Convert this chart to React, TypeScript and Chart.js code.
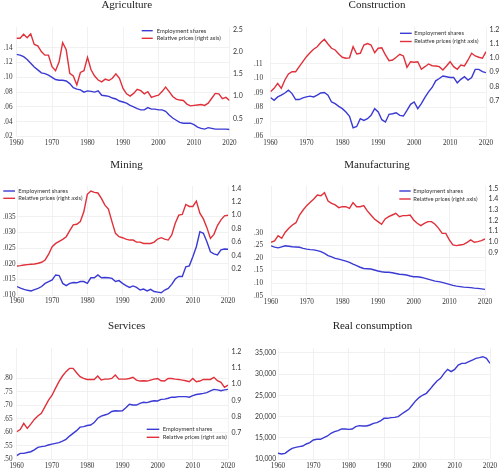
import React, { useEffect, useRef } from "react";
import { Chart, registerables } from "chart.js";

Chart.register(...registerables);

// ---------------- DATA ----------------
const YEARS: number[] = Array.from({ length: 61 }, (_, i) => 1960 + i);
const DECADE_TICKS = [1960, 1970, 1980, 1990, 2000, 2010, 2020];

const agriEmployment = [
  0.131, 0.130, 0.128, 0.124, 0.119, 0.114, 0.110, 0.106, 0.105, 0.103,
  0.100, 0.097, 0.096, 0.096, 0.095, 0.0915, 0.086, 0.084, 0.083, 0.080,
  0.0816, 0.081, 0.080, 0.0816, 0.0757, 0.075, 0.0743, 0.072, 0.0707, 0.068,
  0.0666, 0.065, 0.062, 0.060, 0.0576, 0.056, 0.056, 0.059, 0.057, 0.057,
  0.056, 0.056, 0.054, 0.049, 0.045, 0.042, 0.039, 0.038, 0.038, 0.038,
  0.036, 0.0327, 0.031, 0.030, 0.032, 0.031, 0.030, 0.030, 0.030, 0.030,
  0.0295,
];
const agriPrices = [
  2.30, 2.30, 2.39, 2.31, 2.40, 2.16, 2.13, 2.00, 1.92, 1.92,
  1.66, 1.57, 1.77, 2.20, 2.04, 1.51, 1.45, 1.25, 1.53, 1.57,
  1.87, 1.59, 1.45, 1.36, 1.32, 1.38, 1.35, 1.40, 1.50, 1.40,
  1.17, 1.05, 1.00, 1.06, 1.15, 1.12, 1.05, 1.10, 0.97, 1.00,
  1.02, 1.10, 1.20, 1.10, 0.99, 0.93, 0.91, 0.90, 0.82, 0.78,
  0.79, 0.80, 0.81, 0.79, 0.84, 0.95, 1.06, 1.05, 0.94, 0.97,
  0.90,
];

const constrEmployment = [
  0.0869, 0.085, 0.0873, 0.0885, 0.090, 0.092, 0.0896, 0.0855, 0.0855, 0.0866,
  0.0873, 0.0878, 0.0873, 0.0885, 0.090, 0.0903, 0.0885, 0.0838, 0.0827, 0.0808,
  0.0792, 0.0769, 0.0739, 0.066, 0.0669, 0.0723, 0.0711, 0.0723, 0.0746, 0.0792,
  0.0769, 0.0716, 0.070, 0.0753, 0.0757, 0.0764, 0.0746, 0.0741, 0.078, 0.0822,
  0.0838, 0.0792, 0.0827, 0.0869, 0.0908, 0.0938, 0.0984, 0.100, 0.1017, 0.1012,
  0.1007, 0.1007, 0.097, 0.0994, 0.1012, 0.0989, 0.1007, 0.1063, 0.1063, 0.1047,
  0.104,
];
const constrPrices = [
  0.763, 0.786, 0.821, 0.786, 0.845, 0.887, 0.903, 0.903, 0.938, 0.973,
  1.008, 1.036, 1.06, 1.078, 1.107, 1.13, 1.097, 1.067, 1.055, 1.027,
  1.004, 0.997, 1.0, 1.078, 1.027, 1.032, 1.09, 1.10, 1.09, 1.036,
  1.067, 1.07, 1.02, 0.98, 0.985, 1.004, 1.025, 1.013, 0.934, 0.973,
  0.969, 0.973, 0.92, 0.938, 0.957, 0.945, 0.943, 0.938, 0.915, 0.943,
  0.973, 0.938, 0.92, 0.95, 0.943, 0.985, 1.032, 1.013, 1.004, 0.997,
  1.043,
];

const miningEmployment = [
  0.0127, 0.0122, 0.0118, 0.0115, 0.0113, 0.0117, 0.0121, 0.0127, 0.0137, 0.0143,
  0.0148, 0.0164, 0.0162, 0.0137, 0.0130, 0.0137, 0.0140, 0.0139, 0.0143, 0.0143,
  0.0137, 0.0155, 0.0155, 0.0164, 0.0155, 0.0156, 0.0155, 0.0153, 0.0143, 0.0146,
  0.0137, 0.0130, 0.0124, 0.0129, 0.0124, 0.0116, 0.0119, 0.0113, 0.0118, 0.0111,
  0.0109, 0.0107, 0.0116, 0.0121, 0.0134, 0.0151, 0.0159, 0.0159, 0.0190, 0.0193,
  0.0222, 0.0254, 0.0302, 0.0297, 0.0270, 0.0238, 0.0231, 0.0228, 0.0244, 0.0247,
  0.0246,
];
const miningPrices = [
  0.245, 0.25, 0.26, 0.265, 0.27, 0.275, 0.285, 0.30, 0.334, 0.42,
  0.53, 0.58, 0.61, 0.64, 0.68, 0.77, 0.855, 0.865, 0.905, 1.05,
  1.31, 1.36, 1.34, 1.33, 1.25, 1.15, 1.09, 0.905, 0.73, 0.68,
  0.665, 0.645, 0.63, 0.63, 0.60, 0.60, 0.58, 0.58, 0.58, 0.60,
  0.645, 0.665, 0.645, 0.63, 0.705, 0.88, 1.0, 1.01, 1.16, 1.13,
  1.13, 1.21, 1.03, 0.945, 0.815, 0.655, 0.715, 0.845, 0.93, 0.99,
  1.0,
];

const manufEmployment = [
  0.248, 0.243, 0.240, 0.244, 0.248, 0.246, 0.244, 0.243, 0.242, 0.238,
  0.235, 0.233, 0.232, 0.229, 0.225, 0.218, 0.209, 0.204, 0.198, 0.195,
  0.191, 0.187, 0.182, 0.175, 0.169, 0.163, 0.158, 0.157, 0.156, 0.152,
  0.148, 0.145, 0.143, 0.143, 0.141, 0.138, 0.135, 0.134, 0.132, 0.128,
  0.125, 0.125, 0.123, 0.120, 0.116, 0.112, 0.108, 0.106, 0.103, 0.099,
  0.095, 0.091, 0.088, 0.086, 0.084, 0.083, 0.082, 0.080, 0.079, 0.077,
  0.075,
];
const manufPrices = [
  0.994, 1.006, 1.056, 1.031, 1.088, 1.125, 1.156, 1.178, 1.25, 1.297,
  1.338, 1.369, 1.40, 1.438, 1.431, 1.459, 1.381, 1.359, 1.344, 1.319,
  1.328, 1.328, 1.313, 1.366, 1.328, 1.328, 1.338, 1.288, 1.25, 1.213,
  1.188, 1.163, 1.213, 1.234, 1.25, 1.266, 1.234, 1.244, 1.244, 1.25,
  1.203, 1.172, 1.15, 1.172, 1.188, 1.188, 1.163, 1.125, 1.078, 1.078,
  1.016, 0.969, 0.963, 0.969, 0.975, 0.994, 1.016, 0.994, 1.0, 1.009,
  1.025,
];

const servEmployment = [
  0.5136, 0.522, 0.522, 0.525, 0.528, 0.535, 0.544, 0.547, 0.549, 0.553,
  0.556, 0.559, 0.562, 0.567, 0.574, 0.586, 0.596, 0.606, 0.619, 0.621,
  0.625, 0.627, 0.636, 0.652, 0.660, 0.664, 0.668, 0.677, 0.680, 0.679,
  0.680, 0.691, 0.704, 0.701, 0.701, 0.707, 0.711, 0.710, 0.714, 0.717,
  0.716, 0.722, 0.723, 0.726, 0.730, 0.730, 0.732, 0.732, 0.732, 0.730,
  0.736, 0.740, 0.742, 0.744, 0.747, 0.753, 0.759, 0.757, 0.754, 0.757,
  0.759,
];
const servPrices = [
  0.706, 0.72, 0.758, 0.727, 0.753, 0.782, 0.803, 0.82, 0.86, 0.90,
  0.93, 0.974, 1.015, 1.05, 1.077, 1.097, 1.097, 1.07, 1.046, 1.035,
  1.029, 1.029, 1.029, 1.05, 1.025, 1.031, 1.031, 1.035, 1.056, 1.031,
  1.031, 1.031, 1.035, 1.042, 1.025, 1.019, 1.021, 1.019, 1.025, 1.031,
  1.035, 1.021, 1.019, 1.035, 1.035, 1.031, 1.029, 1.025, 1.021, 1.015,
  1.035, 1.015, 1.019, 1.029, 1.029, 1.029, 1.042, 1.021, 1.011, 0.98,
  0.994,
];

const realConsumption = [
  11406, 11250, 11400, 12030, 12580, 12800, 12970, 13120, 13590, 13900,
  14530, 14690, 14690, 15080, 15470, 16100, 16480, 16720, 17110, 17110,
  17030, 17110, 17660, 17890, 17810, 17810, 18050, 18440, 18600, 18980,
  19610, 19610, 19770, 19840, 20000, 20630, 21170, 21720, 22730, 23750,
  24530, 25080, 25470, 26410, 27420, 28360, 28980, 30160, 31090, 30550,
  31090, 32110, 32500, 32500, 32890, 33280, 33670, 33830, 34060, 33670,
  32500,
];

const agriLeftTicks = [0.02, 0.04, 0.06, 0.08, 0.10, 0.12, 0.14];
const agriRightTicks = [0.5, 1.0, 1.5, 2.0, 2.5];
const constrLeftTicks = [0.06, 0.07, 0.08, 0.09, 0.10, 0.11];
const constrRightTicks = [0.7, 0.8, 0.9, 1.0, 1.1, 1.2];
const miningLeftTicks = [0.010, 0.015, 0.020, 0.025, 0.030, 0.035];
const miningRightTicks = [0.2, 0.4, 0.6, 0.8, 1.0, 1.2, 1.4];
const manufLeftTicks = [0.05, 0.10, 0.15, 0.20, 0.25, 0.30];
const manufRightTicks = [0.9, 1.0, 1.1, 1.2, 1.3, 1.4, 1.5];
const servLeftTicks = [0.50, 0.55, 0.60, 0.65, 0.70, 0.75, 0.80];
const servRightTicks = [0.7, 0.8, 0.9, 1.0, 1.1, 1.2];
const consLeftTicks = [10000, 15000, 20000, 25000, 30000, 35000];

const EMP_LABEL = "Employment shares";
const PRICE_LABEL = "Relative prices (right axis)";

// ---------------- STYLE ----------------
const BLUE = "#3a3ad4";
const RED = "#e0303a";
const GRID = "#ededed";
const TICK_COLOR = "#333";
const SERIF = "'Liberation Serif', 'Times New Roman', serif";
const SANS = "Lato, 'Liberation Sans', sans-serif";

const fracFmt = (digits: number) => (v: number) =>
  v.toFixed(digits).replace(/^0/, "");
const oneDec = (v: number) => v.toFixed(1);
const thousands = (v: number) => Math.round(v).toLocaleString("en-US");

type Axis = {
  min: number;
  max: number;
  ticks: number[];
  fmt: (v: number) => string;
  font?: any;
};
type Panel = {
  title: string;
  x: number;
  y: number;
  w: number;
  h: number;
  area: { l: number; t: number; r: number; b: number };
  padLeft: number;
  left: Axis;
  right?: Axis;
  emp: number[];
  price?: number[];
  legend?: { x0: number; x1: number; tx: number; ys: number[] };
};

const PANELS: Panel[] = [
  {
    title: "Agriculture",
    x: 0, y: 0, w: 250, h: 150,
    area: { l: 16.5, t: 27, r: 229.5, b: 136.5 },
    padLeft: 3.5,
    left: { min: 0.02, max: 0.168, ticks: agriLeftTicks, fmt: fracFmt(2) },
    right: { min: 0.091, max: 2.552, ticks: agriRightTicks, fmt: oneDec },
    emp: agriEmployment,
    price: agriPrices,
    legend: { x0: 141.7, x1: 152.7, tx: 156.7, ys: [30.7, 38.3] },
  },
  {
    title: "Construction",
    x: 250, y: 0, w: 250, h: 150,
    area: { l: 20.5, t: 27, r: 236, b: 136.5 },
    padLeft: 4,
    left: { min: 0.06, max: 0.1355, ticks: constrLeftTicks, fmt: fracFmt(2) },
    right: { min: 0.449, max: 1.216, ticks: constrRightTicks, fmt: oneDec },
    emp: constrEmployment,
    price: constrPrices,
    legend: { x0: 150, x1: 161.7, tx: 164.3, ys: [33.3, 41.5] },
  },
  {
    title: "Mining",
    x: 0, y: 160, w: 250, h: 148,
    area: { l: 17, t: 26, r: 228, b: 135 },
    padLeft: 3,
    left: { min: 0.010, max: 0.0448, ticks: miningLeftTicks, fmt: fracFmt(3) },
    right: { min: -0.187, max: 1.434, ticks: miningRightTicks, fmt: oneDec },
    emp: miningEmployment,
    price: miningPrices,
    legend: { x0: 3.3, x1: 15, tx: 18.3, ys: [31, 38.3] },
  },
  {
    title: "Manufacturing",
    x: 250, y: 160, w: 250, h: 148,
    area: { l: 21, t: 26, r: 235, b: 135.7 },
    padLeft: 4,
    left: { min: 0.05, max: 0.4853, ticks: manufLeftTicks, fmt: fracFmt(2) },
    right: { min: 0.493, max: 1.522, ticks: manufRightTicks, fmt: oneDec },
    emp: manufEmployment,
    price: manufPrices,
    legend: { x0: 149.3, x1: 160.7, tx: 163.3, ys: [31, 39] },
  },
  {
    title: "Services",
    x: 0, y: 321, w: 250, h: 147,
    area: { l: 16.7, t: 27, r: 228, b: 138.3 },
    padLeft: 3.5,
    left: { min: 0.50, max: 0.9122, ticks: servLeftTicks, fmt: fracFmt(2) },
    right: { min: 0.536, max: 1.223, ticks: servRightTicks, fmt: oneDec },
    emp: servEmployment,
    price: servPrices,
    legend: { x0: 146.7, x1: 159.3, tx: 162.7, ys: [108.3, 116.3] },
  },
  {
    title: "Real consumption",
    x: 250, y: 321, w: 250, h: 147,
    area: { l: 28, t: 27, r: 240, b: 138.3 },
    padLeft: 5,
    left: {
      min: 10000,
      max: 36102,
      ticks: consLeftTicks,
      fmt: thousands,
      font: { family: SANS, size: 6.8 },
    },
    emp: realConsumption,
  },
];

// ---------------- PLUGIN ----------------
const panelLegend = {
  id: "panelLegend",
  afterDraw(chart: any, _args: any, opts: any) {
    if (!opts || !opts.ys) return;
    const ctx = chart.ctx;
    ctx.save();
    chart.data.datasets.forEach((ds: any, i: number) => {
      const y = opts.ys[i];
      if (y === undefined) return;
      ctx.strokeStyle = ds.borderColor;
      ctx.lineWidth = 1.4;
      ctx.beginPath();
      ctx.moveTo(opts.x0, y);
      ctx.lineTo(opts.x1, y);
      ctx.stroke();
      ctx.fillStyle = "#333";
      ctx.font = `5.8px ${SANS}`;
      ctx.textAlign = "left";
      ctx.textBaseline = "middle";
      ctx.fillText(ds.label, opts.tx, y);
    });
    ctx.restore();
  },
};

function toPoints(values: number[]) {
  return values.map((v, i) => ({ x: YEARS[i], y: v }));
}

function PanelChart({ p }: { p: Panel }) {
  const ref = useRef<HTMLCanvasElement | null>(null);
  useEffect(() => {
    if (!ref.current) return;
    const datasets: any[] = [
      {
        label: EMP_LABEL,
        data: toPoints(p.emp),
        borderColor: BLUE,
        backgroundColor: BLUE,
        borderWidth: 1.4,
        pointRadius: 0,
        yAxisID: "y",
        spanGaps: true,
      },
    ];
    if (p.price) {
      datasets.push({
        label: PRICE_LABEL,
        data: toPoints(p.price),
        borderColor: RED,
        backgroundColor: RED,
        borderWidth: 1.4,
        pointRadius: 0,
        yAxisID: "y2",
        spanGaps: true,
      });
    }
    const leftFont = p.left.font || { family: SERIF, size: 7.2 };
    const scales: any = {
      x: {
        type: "linear",
        min: 1960,
        max: 2020,
        afterBuildTicks: (s: any) => {
          s.ticks = DECADE_TICKS.map((v) => ({ value: v }));
        },
        afterFit: (s: any) => {
          s.height = p.h - p.area.b;
        },
        grid: { color: GRID, drawTicks: false, lineWidth: 0.8 },
        border: { display: false },
        ticks: {
          padding: 2,
          color: TICK_COLOR,
          font: { family: SERIF, size: 7.2 },
          maxRotation: 0,
          autoSkip: false,
          callback: (v: any) => String(v),
        },
      },
      y: {
        type: "linear",
        position: "left",
        min: p.left.min,
        max: p.left.max,
        afterBuildTicks: (s: any) => {
          s.ticks = p.left.ticks.map((v) => ({ value: v }));
        },
        afterFit: (s: any) => {
          s.width = p.area.l - p.padLeft;
        },
        grid: { color: GRID, drawTicks: false, lineWidth: 0.8 },
        border: { display: false },
        ticks: {
          crossAlign: "far",
          padding: 0,
          color: TICK_COLOR,
          font: leftFont,
          autoSkip: false,
          callback: (v: any) => p.left.fmt(Number(v)),
        },
      },
    };
    if (p.right) {
      const r = p.right;
      scales.y2 = {
        type: "linear",
        position: "right",
        min: r.min,
        max: r.max,
        afterBuildTicks: (s: any) => {
          s.ticks = r.ticks.map((v) => ({ value: v }));
        },
        afterFit: (s: any) => {
          s.width = p.w - p.area.r;
        },
        grid: { display: false, drawTicks: false },
        border: { display: false },
        ticks: {
          padding: 3.5,
          color: TICK_COLOR,
          font: { family: SANS, size: 7 },
          autoSkip: false,
          callback: (v: any) => r.fmt(Number(v)),
        },
      };
    }
    const chart = new Chart(ref.current, {
      type: "line",
      data: { datasets },
      options: {
        responsive: false,
        animation: false,
        events: [],
        layout: {
          padding: {
            left: p.padLeft,
            right: p.right ? 0 : p.w - p.area.r,
            top: 0,
            bottom: 0,
          },
        },
        plugins: {
          legend: { display: false },
          tooltip: { enabled: false },
          title: {
            display: true,
            text: p.title,
            color: "#222",
            font: { family: SERIF, size: 11, weight: "normal", lineHeight: 1 },
            padding: { top: 0, bottom: p.area.t - 11 },
          },
          panelLegend: p.legend || {},
        } as any,
        scales,
      },
      plugins: [panelLegend as any],
    } as any);
    return () => chart.destroy();
  }, [p]);
  return (
    <canvas
      ref={ref}
      width={p.w}
      height={p.h}
      style={{
        position: "absolute",
        left: p.x,
        top: p.y,
        width: p.w,
        height: p.h,
      }}
    />
  );
}

export default function App() {
  return (
    <div
      style={{
        position: "absolute",
        left: 0,
        top: 0,
        width: 500,
        height: 468,
        background: "#fff",
        overflow: "hidden",
      }}
    >
      {PANELS.map((p) => (
        <PanelChart key={p.title} p={p} />
      ))}
    </div>
  );
}
